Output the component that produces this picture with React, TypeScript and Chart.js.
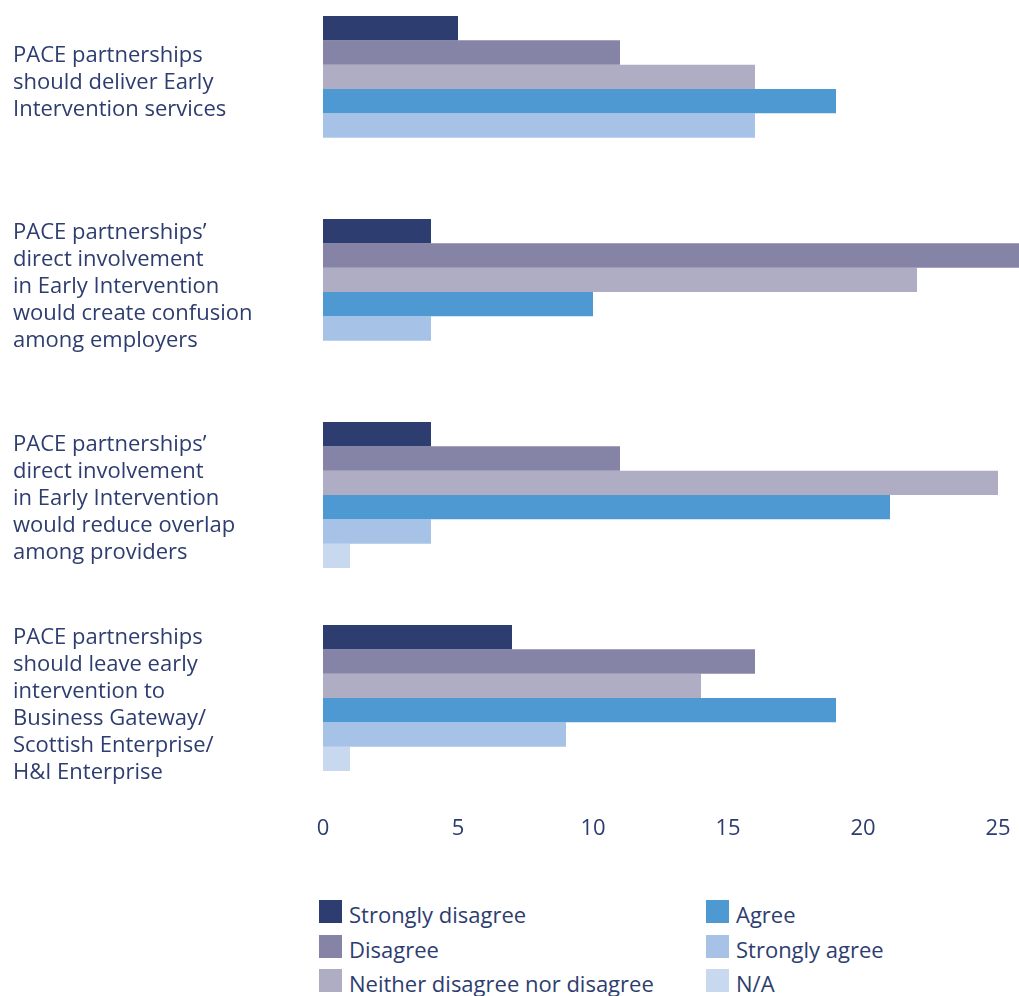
import React, { useEffect, useRef } from "react";
import { Chart, registerables } from "chart.js";

Chart.register(...registerables);

const categories: string[][] = [
  ["PACE partnerships", "should deliver Early", "Intervention services"],
  ["PACE partnerships’", "direct involvement", "in Early Intervention", "would create confusion", "among employers"],
  ["PACE partnerships’", "direct involvement", "in Early Intervention", "would reduce overlap", "among providers"],
  ["PACE partnerships", "should leave early", "intervention to", "Business Gateway/", "Scottish Enterprise/", "H&I Enterprise"],
];

const seriesNames = [
  "Strongly disagree",
  "Disagree",
  "Neither disagree nor disagree",
  "Agree",
  "Strongly agree",
  "N/A",
];

const stronglyDisagree = [5, 4, 4, 7];
const disagree = [11, 26, 11, 16];
const neither = [16, 22, 25, 14];
const agree = [19, 10, 21, 19];
const stronglyAgree = [16, 4, 4, 9];
const notApplicable = [0, 0, 1, 1];

const xTicks = [0, 5, 10, 15, 20, 25];

const colors = ["#2e3d6f", "#8584a6", "#afadc3", "#4e99d2", "#a6c3e7", "#c8d8ef"];
const textColor = "#2e3d6f";
const FONT = "'Open Sans', sans-serif";
const FONT_SIZE = 22;
// vertical nudge (px) of each category label block, matching the original layout
const labelNudge = [-6, -5, 4, 7];

export default function App() {
  const ref = useRef<HTMLCanvasElement>(null);

  useEffect(() => {
    if (!ref.current) return;
    const values = [stronglyDisagree, disagree, neither, agree, stronglyAgree, notApplicable];
    const chart = new Chart(ref.current, {
      type: "bar",
      data: {
        labels: categories,
        datasets: values.map((v, i) => ({
          label: seriesNames[i],
          data: v,
          backgroundColor: colors[i],
          borderWidth: 0,
          categoryPercentage: 0.719,
          barPercentage: 1,
          clip: false as any,
        })),
      },
      options: {
        indexAxis: "y",
        animation: false,
        responsive: true,
        maintainAspectRatio: false,
        layout: { padding: { left: 13, right: 21, top: 7.5, bottom: 0 } },
        plugins: { legend: { display: false }, tooltip: { enabled: false } },
        scales: {
          x: {
            min: 0,
            max: 25,
            afterBuildTicks: (s: any) => {
              s.ticks = xTicks.map((v) => ({ value: v }));
            },
            afterFit: (s: any) => {
              s.height = 60.5;
              s.paddingLeft = 0;
              s.paddingRight = 0;
            },
            grid: { display: false, drawTicks: false },
            border: { display: false },
            ticks: {
              padding: 16,
              color: textColor,
              font: { family: FONT, size: FONT_SIZE, lineHeight: 1.2 },
            },
          },
          y: {
            afterFit: (s: any) => {
              s.width = 310;
              s.paddingTop = 0;
              s.paddingBottom = 0;
              if (!s.__nudged) {
                s.__nudged = true;
                const orig = s._computeLabelItems.bind(s);
                s._computeLabelItems = (area: any) => {
                  const items = orig(area);
                  items.forEach((it: any, i: number) => {
                    if (it.options && it.options.translation) it.options.translation[1] += labelNudge[i] || 0;
                  });
                  return items;
                };
              }
            },
            grid: { display: false, drawTicks: false },
            border: { display: false },
            ticks: {
              crossAlign: "far",
              color: textColor,
              font: { family: FONT, size: FONT_SIZE, lineHeight: 27 / FONT_SIZE },
            },
          },
        },
      },
    });
    return () => chart.destroy();
  }, []);

  const legendItems = seriesNames.map((name, i) => {
    const col = i < 3 ? 0 : 1;
    const row = i % 3;
    return (
      <div
        key={name}
        style={{
          position: "absolute",
          left: col === 0 ? 319 : 706,
          top: 900 + row * 34.5,
          height: 23,
          display: "flex",
          alignItems: "center",
          whiteSpace: "nowrap",
        }}
      >
        <span style={{ display: "inline-block", width: 23, height: 23, background: colors[i], marginRight: 7, flex: "none" }} />
        <span style={{ fontFamily: FONT, fontSize: FONT_SIZE, color: textColor, lineHeight: "23px", position: "relative", top: 3 }}>{name}</span>
      </div>
    );
  });

  return (
    <div>
      <div style={{ position: "absolute", left: 0, top: -20, width: 1019, height: 880 }}>
        <canvas ref={ref} />
      </div>
      {legendItems}
    </div>
  );
}
